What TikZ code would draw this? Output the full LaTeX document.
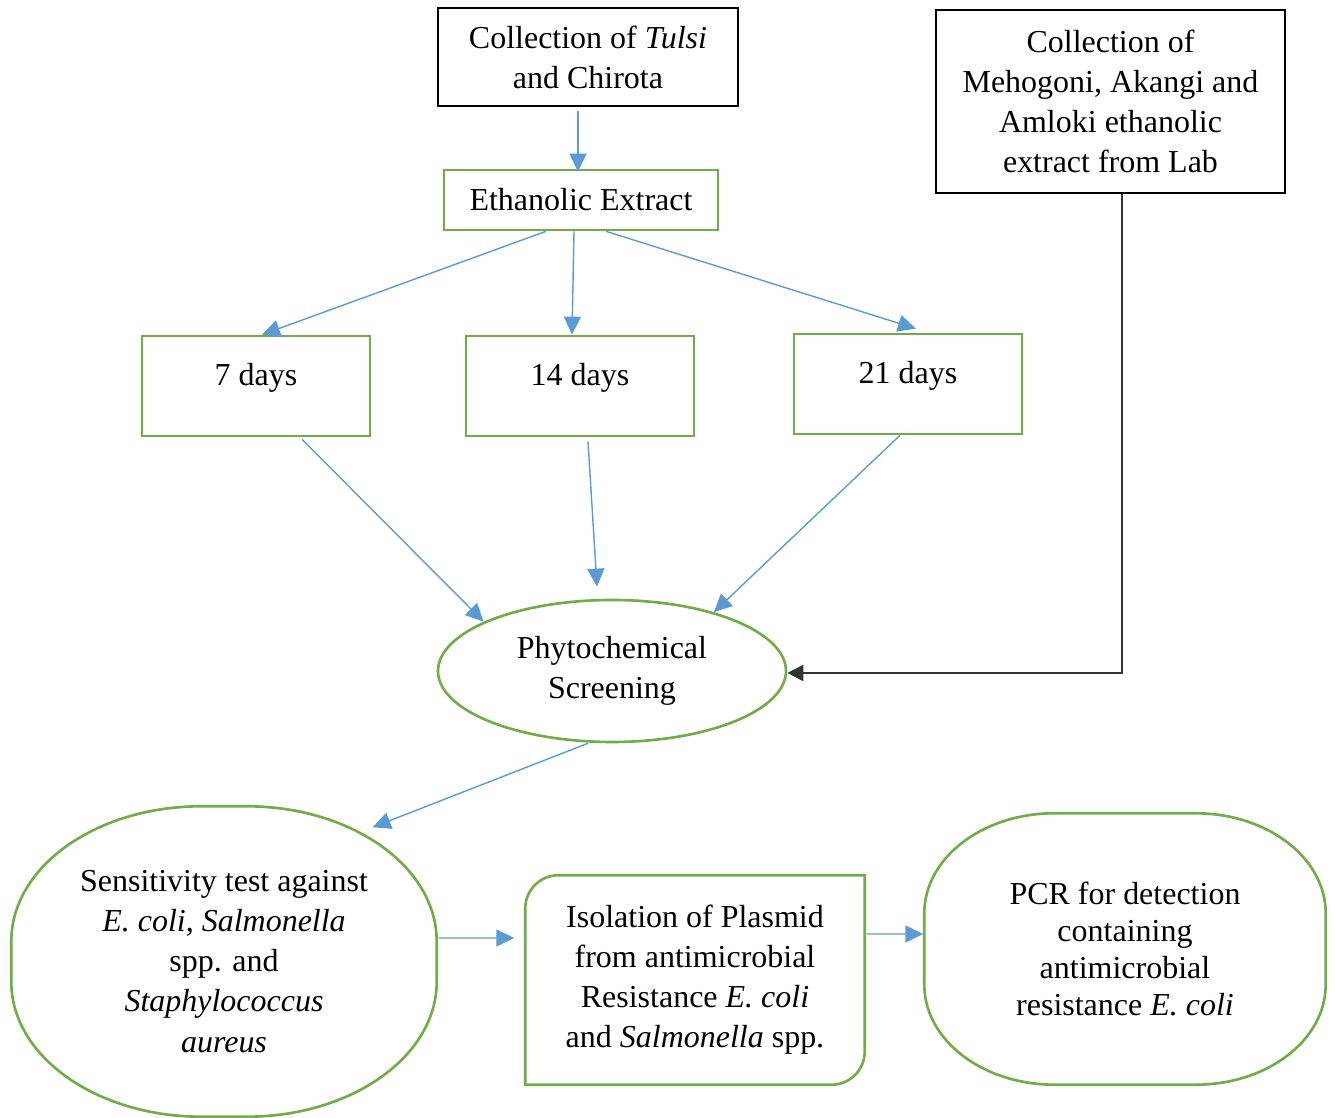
\documentclass[tikz,border=0pt]{standalone}
\usepackage{fontspec}
\setmainfont{Liberation Serif}
\usepackage{tikz}
\usetikzlibrary{arrows.meta,shapes.geometric}
\definecolor{boxgreen}{RGB}{112,173,71}
\definecolor{arrowblue}{RGB}{91,155,213}

\begin{document}
\begin{tikzpicture}[
  every node/.style={font=\fontsize{9.1}{11.4}\selectfont, align=center, inner sep=0pt},
  blackbox/.style={draw=black, line width=0.75pt},
  greenbox/.style={draw=boxgreen, line width=0.75pt},
  daybox/.style={greenbox, minimum width=2.28cm, minimum height=1cm, text height=0.25cm, text depth=0.25cm},
  greenline/.style={draw=boxgreen, line width=0.75pt},
  bluearrow/.style={draw=arrowblue, line width=0.4pt, -{Triangle[length=0.18cm,width=0.17cm]}},
  blackarrow/.style={draw=black!80, line width=0.5pt, -{Triangle[length=0.16cm,width=0.16cm]}}
]
\useasboundingbox (0,0) rectangle (13.35,-11.18);
\node[blackbox, minimum width=3cm, minimum height=0.98cm] (tulsi) at (5.88,-0.57) {Collection of \textit{Tulsi}\\and Chirota};
\node[blackbox, minimum width=3.49cm, minimum height=1.83cm] (lab) at (11.105,-1.015) {Collection of\\Mehogoni, Akangi and\\Amloki ethanolic\\extract from Lab};
\node[greenbox, minimum width=2.74cm, minimum height=0.6cm] (ext) at (5.81,-2.0) {Ethanolic Extract};
\node[daybox] (d7) at (2.56,-3.86) {7 days};
\node[daybox] (d14) at (5.80,-3.86) {14 days};
\node[daybox] (d21) at (9.08,-3.84) {21 days};
\node[ellipse, greenbox, minimum width=3.48cm, minimum height=1.42cm] (phy) at (6.12,-6.71) {Phytochemical\\Screening};
\node[minimum width=4.24cm, minimum height=3.09cm] (sens) at (2.24,-9.615) {Sensitivity test against\\\textit{E. coli, Salmonella}\\spp. and\\\textit{Staphylococcus}\\\textit{aureus}};
\node[minimum width=3.38cm, minimum height=2.08cm] (iso) at (6.95,-9.80) {Isolation of Plasmid\\from antimicrobial\\Resistance \textit{E. coli}\\and \textit{Salmonella} spp.};
\node[minimum width=4.0cm, minimum height=2.7cm, font=\fontsize{9.1}{10.5}\selectfont] (pcr) at (11.25,-9.49) {PCR for detection\\containing\\antimicrobial\\resistance \textit{E. coli}};

\draw[greenline] ([xshift=1.9cm]sens.north west) -- ([xshift=-1.9cm]sens.north east)
  arc[start angle=90,end angle=0,x radius=1.9cm,y radius=1.35cm] -- ([yshift=1.35cm]sens.south east)
  arc[start angle=0,end angle=-90,x radius=1.9cm,y radius=1.35cm] -- ([xshift=1.9cm]sens.south west)
  arc[start angle=270,end angle=180,x radius=1.9cm,y radius=1.35cm] -- ([yshift=-1.35cm]sens.north west)
  arc[start angle=180,end angle=90,x radius=1.9cm,y radius=1.35cm] -- cycle;
\draw[greenline] (iso.south west) -- ([yshift=-0.33cm]iso.north west)
  arc[start angle=180,end angle=90,radius=0.33cm] -- (iso.north east) -- ([yshift=0.33cm]iso.south east)
  arc[start angle=0,end angle=-90,radius=0.33cm] -- cycle;
\draw[greenline] ([xshift=1.3cm]pcr.north west) -- ([xshift=-1.3cm]pcr.north east)
  arc[start angle=90,end angle=0,x radius=1.3cm,y radius=1.0cm] -- ([yshift=1.0cm]pcr.south east)
  arc[start angle=0,end angle=-90,x radius=1.3cm,y radius=1.0cm] -- ([xshift=1.3cm]pcr.south west)
  arc[start angle=270,end angle=180,x radius=1.3cm,y radius=1.0cm] -- ([yshift=-1.0cm]pcr.north west)
  arc[start angle=180,end angle=90,x radius=1.3cm,y radius=1.0cm] -- cycle;

\draw[bluearrow] ([xshift=-0.1cm,yshift=-0.04cm]tulsi.south) -- ([xshift=-0.03cm,yshift=-0.03cm]ext.north);
\draw[bluearrow] ([xshift=-0.35cm]ext.south) -- ([xshift=0.06cm]d7.north);
\draw[bluearrow] ([xshift=-0.07cm]ext.south) -- ([xshift=-0.08cm]d14.north);
\draw[bluearrow] ([xshift=0.25cm]ext.south) -- ([xshift=0.08cm,yshift=0.04cm]d21.north);
\draw[bluearrow] ([xshift=0.46cm,yshift=-0.02cm]d7.south) -- (phy.159);
\draw[bluearrow] ([xshift=0.08cm,yshift=-0.04cm]d14.south) -- ([xshift=-0.15cm,yshift=0.12cm]phy.north);
\draw[bluearrow] ([xshift=-0.08cm]d21.south) -- (phy.30);
\draw[blackarrow] ([xshift=0.115cm]lab.south) |- ([yshift=-0.02cm]phy.east);
\draw[bluearrow] ([xshift=-0.24cm]phy.south) -- ([xshift=-0.64cm,yshift=-0.21cm]sens.north east);
\draw[bluearrow] ([xshift=0.02cm,yshift=0.235cm]sens.east) -- ([xshift=-0.11cm,yshift=0.42cm]iso.west);
\draw[bluearrow] ([xshift=0.02cm,yshift=0.46cm]iso.east) -- ([xshift=-0.01cm,yshift=0.15cm]pcr.west);
\end{tikzpicture}
\end{document}
